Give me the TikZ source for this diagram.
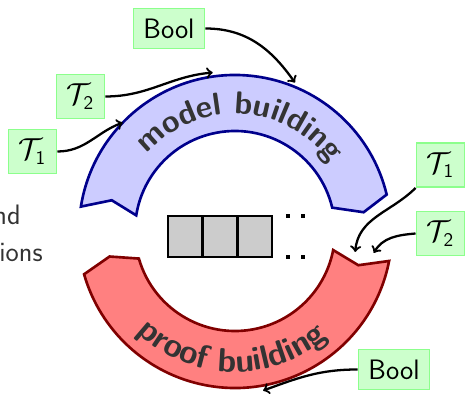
\documentclass[tikz,border=0pt]{standalone}
\usepackage{amsmath}
\usetikzlibrary{decorations.text}

\begin{document}
\begin{tikzpicture}[
  font=\fontsize{16}{19}\selectfont\sffamily,
  box/.style={draw=green!45, fill=green!20, line width=1.1pt, minimum height=0.8cm, inner xsep=0.2cm},
  tbox/.style={box, minimum width=0.96cm, minimum height=0.88cm},
  conn/.style={draw, line width=1.3pt, ->},
  cell/.style={draw, line width=1.6pt, fill=black!20}]
\useasboundingbox (-4.70,-3.38) rectangle (4.60,4.62);

% the two halves of the cycle
\path[draw=blue!55!black, fill=blue!20, line width=1.5pt]
  (171:3.12) arc[start angle=171, end angle=13.5, radius=3.12] -- (8.3:2.6)
  -- (13.5:2) arc[start angle=13.5, end angle=171, radius=2] -- (166:2.54) -- cycle;
\path[draw=red!50!black, fill=red!50, line width=1.5pt]
  (349:3.14) arc[start angle=349, end angle=196, radius=3.14] -- (191.5:2.56)
  -- (196:2) arc[start angle=196, end angle=349, radius=2] -- (344.5:2.56) -- cycle;
\path[decorate, decoration={text along path, text align=center, text color=black!80,
    text={|\fontsize{18}{21}\selectfont\sffamily\bfseries|model building}}]
  (148:2.34) arc[start angle=148, end angle=26, radius=2.34];
\path[decorate, decoration={text along path, text align=center, text color=black!80,
    text={|\fontsize{19}{22}\selectfont\sffamily\bfseries|proof building}}]
  (214:2.82) arc[start angle=214, end angle=323, radius=2.82];

% array in the middle
\foreach \i in {0,1,2}
  \path[cell] (-1.34+0.693*\i,-0.52) rectangle ++(0.693,0.82);
\foreach \y in {0.30,-0.52}
  \draw[line width=0.08cm, dash pattern=on 0.08cm off 0.22cm] (1.02,\y) -- (1.44,\y);

\node[box] (bool1) at (-1.32,4.05) {Bool};
\node[tbox] (t2l) at (-3.09,2.69) {$\mathcal{T}_\mathsf{2}$};
\node[tbox] (t1l) at (-4.05,1.59) {$\mathcal{T}_\mathsf{1}$};
\node[tbox] (t1r) at (4.11,1.32) {$\mathcal{T}_\mathsf{1}$};
\node[tbox] (t2r) at (4.11,-0.05) {$\mathcal{T}_\mathsf{2}$};
\node[box] (bool2) at (3.18,-2.77) {Bool};

\node[anchor=base east, inner sep=0pt, text=black!80] (nd) at (-4.28,0.12) {nd};
\node[anchor=base east, inner sep=0pt, text=black!80] (ions) at (-3.84,-0.62) {ions};

\coordinate (mb1) at (68:3.2);
\coordinate (mb2) at (98:3.2);
\coordinate (mb3) at (136:3.12);
\coordinate (pb1) at (-9.9:2.44);
\coordinate (pb2) at (-9:2.81);
\coordinate (pb3) at (280:3.24);

\path[conn] (bool1.east) to[out=0,in=125] (mb1);
\path[conn] (t2l.east) to[out=0,in=185] (mb2);
\path[conn] (t1l.east) to[out=0,in=200] (mb3);
\path[conn] (t1r.south west) to[out=225,in=85] (pb1);
\path[conn] (t2r.west) to[out=185,in=60] (pb2);
\path[conn] (bool2.west) to[out=180,in=20] (pb3);
\end{tikzpicture}
\end{document}
